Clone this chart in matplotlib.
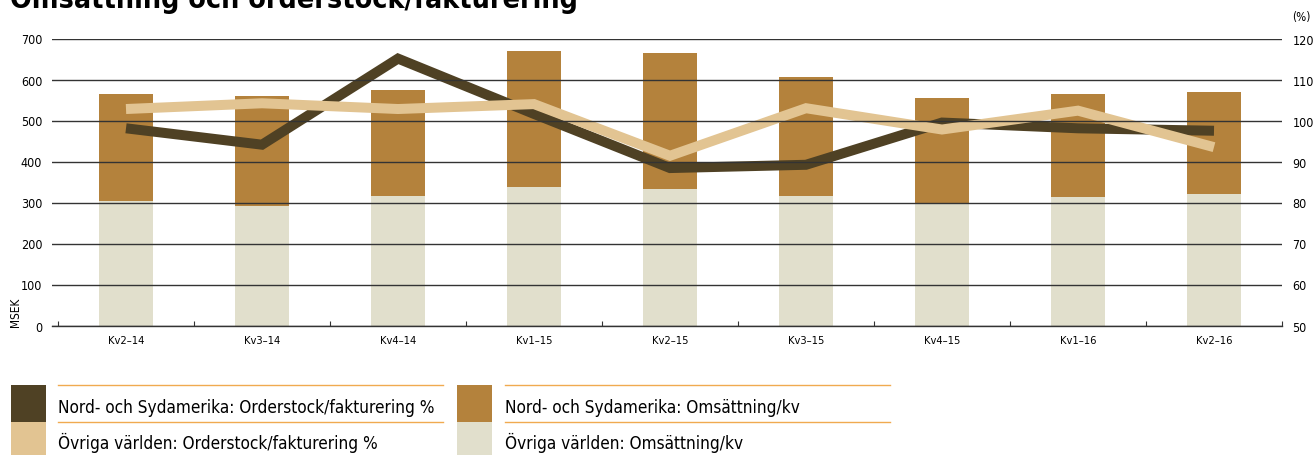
import matplotlib.pyplot as plt
import numpy as np
from matplotlib.patches import Rectangle
from matplotlib.lines import Line2D

quarters = ["Kv2–14", "Kv3–14", "Kv4–14", "Kv1–15", "Kv2–15", "Kv3–15", "Kv4–15", "Kv1–16", "Kv2–16"]
ovriga_oms = [303, 291, 317, 338, 332, 317, 300, 313, 321]
nord_oms = [261, 269, 258, 331, 332, 288, 255, 251, 249]
nord_order = [98.1, 94.1, 115.1, 101.6, 88.4, 89.2, 99.5, 98.1, 97.5]
ovriga_order = [102.8, 104.2, 102.8, 104.0, 91.4, 103.0, 97.8, 102.4, 93.5]

legend_labels = [
    "Nord- och Sydamerika: Orderstock/fakturering %",
    "Övriga världen: Orderstock/fakturering %",
    "Nord- och Sydamerika: Omsättning/kv",
    "Övriga världen: Omsättning/kv",
]

c_nord_line = "#4f4124"
c_ovr_line = "#e2c492"
c_nord_bar = "#b4823c"
c_ovr_bar = "#e1dfcc"
c_rule = "#f0aa50"

plt.rcParams["font.family"] = ["DejaVu Sans"]
plt.rcParams["font.stretch"] = "condensed"

W, H = 1313, 456
fig = plt.figure(figsize=(W / 100, H / 100), dpi=100)


def fx(px):
    return px / W


def fy(py):
    return 1 - py / H


ax = fig.add_axes([fx(52), fy(326.5), fx(1282 - 52), (326.5 - 39.5) / H])
x = np.arange(len(quarters))

ax.bar(x, ovriga_oms, width=0.4, color=c_ovr_bar, zorder=1)
ax.bar(x, nord_oms, width=0.4, bottom=ovriga_oms, color=c_nord_bar, zorder=1)

ax.set_xlim(-0.5 - 6 / 136, 8.5)
ax.set_ylim(0, 700)
ax.set_yticks(range(0, 701, 100))
ax.set_xticks(x)
ax.set_xticklabels(quarters, fontsize=8)
ax.set_xticks(np.arange(-0.5, 8.6, 1), minor=True)
ax.tick_params(axis="x", which="major", length=0, pad=7)
ax.tick_params(axis="x", which="minor", direction="in", length=3.5, width=0.8, color="#333333")
ax.tick_params(axis="y", length=0, pad=7, labelsize=9)
for s in ["top", "left", "right"]:
    ax.spines[s].set_visible(False)
ax.spines["bottom"].set_color("#333333")
ax.spines["bottom"].set_linewidth(1.0)

ax2 = ax.twinx()
ax2.plot(x, nord_order, color=c_nord_line, linewidth=7.2, solid_capstyle="butt", solid_joinstyle="miter", zorder=2)
ax2.plot(x, ovriga_order, color=c_ovr_line, linewidth=7.2, solid_capstyle="butt", solid_joinstyle="miter", zorder=2)
ax2.set_ylim(50, 120)
ax2.set_yticks(range(50, 121, 10))
ax2.set_axisbelow(False)
ax2.grid(axis="y", color="#333333", linewidth=1.0)
ax2.tick_params(axis="y", length=0, pad=7.5, labelsize=9)
for s in ["top", "left", "right", "bottom"]:
    ax2.spines[s].set_visible(False)

fig.text(fx(1292), fy(18), "(%)", fontsize=8.5, va="center", ha="left")
fig.text(fx(15), fy(327), "MSEK", fontsize=8.5, rotation=90, va="bottom", ha="center")

fig.text(fx(10), fy(8), "Omsättning och orderstock/fakturering", fontsize=20.5,
         fontweight="bold", va="baseline", ha="left")

# legend
swatches = [(11, 386, 423, c_nord_line), (11, 423, 456, c_ovr_line),
            (457, 386, 423, c_nord_bar), (457, 423, 456, c_ovr_bar)]
for x0, y0, y1, col in swatches:
    fig.add_artist(Rectangle((fx(x0), fy(y1)), fx(35), (y1 - y0) / H,
                             transform=fig.transFigure, color=col, lw=0))
for x0, x1 in [(58, 443), (505, 890)]:
    for yy in [385.5, 423]:
        fig.add_artist(Line2D([fx(x0), fx(x1)], [fy(yy), fy(yy)],
                              transform=fig.transFigure, color=c_rule, lw=1.0))
text_pos = [(58, 408), (58, 443), (505, 408), (505, 443)]
for (tx, ty), lab in zip(text_pos, legend_labels):
    fig.text(fx(tx), fy(ty), lab, fontsize=12.3, va="center", ha="left")

fig.savefig("out.png", dpi=100)
